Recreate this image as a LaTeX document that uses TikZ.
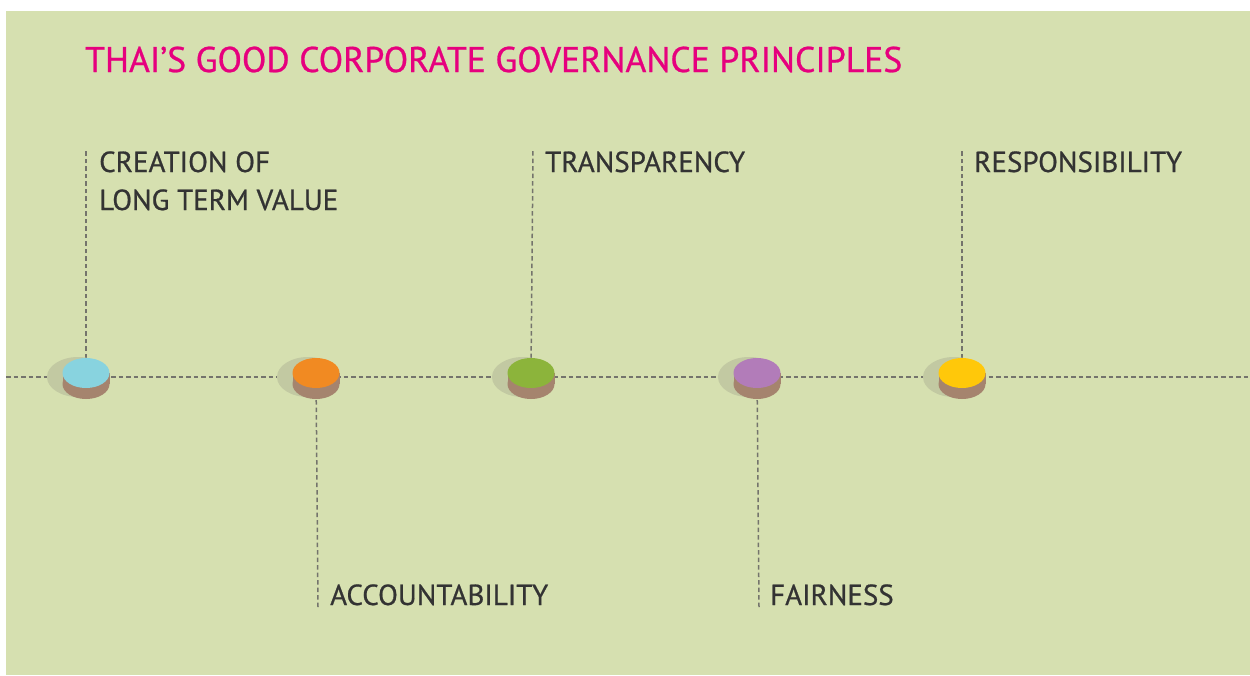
\documentclass[tikz,border=0pt]{standalone}
\usepackage{fontspec}
\setmainfont{PT Sans}
\newfontfamily\labelfont[FakeBold=0.7]{PT Sans}
\begin{document}
\definecolor{bggreen}{HTML}{D6E0B0}
\definecolor{shadowgreen}{HTML}{C2C9A2}
\definecolor{base}{HTML}{A5846E}
\definecolor{title}{HTML}{E6007E}
\definecolor{ink}{HTML}{333333}
\definecolor{guide}{HTML}{74746C}
\definecolor{cCyan}{HTML}{88D3DF}
\definecolor{cOrange}{HTML}{F18A22}
\definecolor{cGreen}{HTML}{8CB43B}
\definecolor{cPurple}{HTML}{B27CB9}
\definecolor{cYellow}{HTML}{FFC80A}
\begin{tikzpicture}[x=1pt,y=-1pt,
  guideline/.style={draw=guide,line width=1.5pt,dash pattern=on 4.5pt off 3pt},
  label/.style={anchor=base west,inner sep=0pt,text=ink,font=\labelfont\fontsize{29}{38}\selectfont,align=left},
  heading/.style={anchor=base west,inner sep=0pt,text=title,font=\labelfont\fontsize{35.7}{40}\selectfont}]
  % canvas
  \useasboundingbox (0,0) rectangle (1250,675);
  \fill[white] (0,0) rectangle (1250,675);
  \fill[bggreen] (6,11) rectangle (1250,675);

  % title
  \node[heading] (head) at (85,72) {THAI’S GOOD CORPORATE GOVERNANCE PRINCIPLES};

  % timeline axis
  \coordinate (axisL) at (6,377);
  \coordinate (axisR) at (1250,377);
  \draw[guideline] (axisL) -- (axisR);

  % principle labels (base anchor sits on the last line)
  \node[label] (creation) at (99,210) {CREATION OF\\LONG TERM VALUE};
  \node[label] (transp) at (545,172) {TRANSPARENCY};
  \node[label] (respons) at (974,172) {RESPONSIBILITY};
  \node[label] (account) at (330,605) {ACCOUNTABILITY};
  \node[label] (fair) at (770,605) {FAIRNESS};

  % guide ends
  \coordinate (topA) at (86,150);
  \coordinate (topC) at (533,150);
  \coordinate (topE) at (962,150);
  \coordinate (botB) at (318,607);
  \coordinate (botD) at (759,607);

  % disc centres
  \coordinate (dA) at (86,373);
  \coordinate (dB) at (316,373);
  \coordinate (dC) at (531,373);
  \coordinate (dD) at (757,373);
  \coordinate (dE) at (962,373);

  % connectors from discs to labels
  \draw[guideline] (dA) -- (topA);
  \draw[guideline] (dC) -- (topC);
  \draw[guideline] (dE) -- (topE);
  \draw[guideline] (botB) -- (dB);
  \draw[guideline] (botD) -- (dD);

  % discs: soft shadow, brown rim, coloured top
  \foreach \d/\c in {dA/cCyan,dB/cOrange,dC/cGreen,dD/cPurple,dE/cYellow}{
    \fill[shadowgreen] ([xshift=-8pt,yshift=-4pt]\d) ellipse [x radius=31pt,y radius=20pt];
    \fill[base] ([yshift=-11pt]\d) ellipse [x radius=23.5pt,y radius=15pt];
    \fill[base] ([xshift=-23.5pt]\d) rectangle ([xshift=23.5pt,yshift=-11pt]\d);
    \fill[\c] (\d) ellipse [x radius=23.5pt,y radius=15pt];
  }
\end{tikzpicture}
\end{document}
